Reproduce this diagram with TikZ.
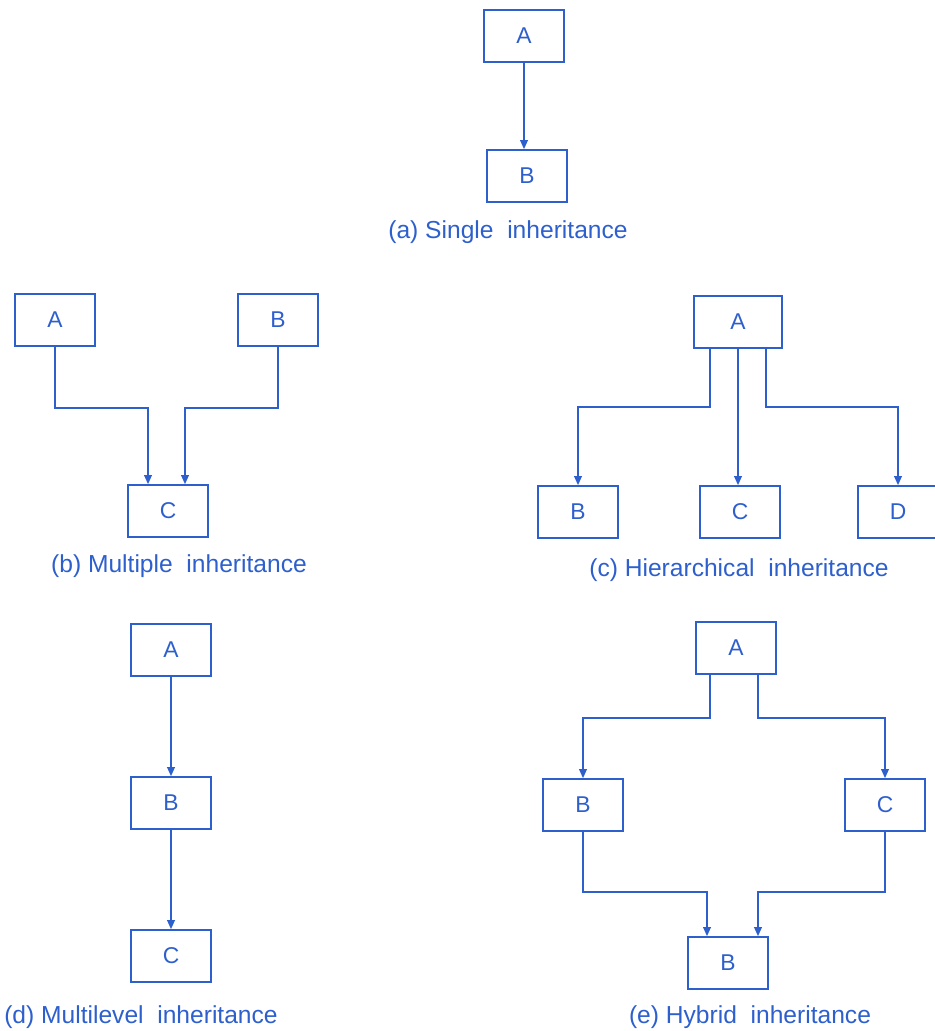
\documentclass[tikz,border=0pt]{standalone}
\usepackage{fontspec}
\setmainfont{Liberation Sans}
\usepackage{xcolor}
\usepackage{tikz}
\usetikzlibrary{arrows.meta}
\definecolor{inkblue}{RGB}{45,95,205}
\begin{document}
\begin{tikzpicture}[x=0.02cm, y=0.02cm,
    every node/.style={text=inkblue, font=\fontsize{13}{15}\selectfont},
    cls/.style={draw=inkblue, line width=0.9pt, minimum width=1.6cm, minimum height=1.04cm, inner sep=0pt},
    arr/.style={draw=inkblue, line width=1pt, -{Triangle[length=1.8mm, width=1.5mm]}},
    caption/.style={inner sep=0pt, font=\fontsize{14}{16}\selectfont}
    ]
    \useasboundingbox (0,0) rectangle (935,-1031);
    % (a) single
    \node[cls] (aA) at (524,-36) {A};
    \node[cls] (aB) at (527,-176) {B};
    \node[caption] (acap) at (508,-232) {(a) Single\ \ inheritance};
    \draw[arr] (aA.south) -- (aA.south |- aB.north);
    % (b) multiple
    \node[cls] (bA) at (55,-320) {A};
    \node[cls] (bB) at (278,-320) {B};
    \node[cls] (bC) at (168,-511) {C};
    \node[caption] (bcap) at (179,-566) {(b) Multiple\ \ inheritance};
    \draw[arr] (bA.south) -- ++(0,-61) -| ([xshift=-4mm]bC.north);
    \draw[arr] (bB.south) -- ++(0,-61) -| ([xshift=3.4mm]bC.north);
    % (c) hierarchical
    \node[cls, minimum width=1.76cm] (cA) at (738,-322) {A};
    \node[cls] (cB) at (578,-512) {B};
    \node[cls] (cC) at (740,-512) {C};
    \node[cls] (cD) at (898,-512) {D};
    \node[caption] (ccap) at (739,-570) {(c) Hierarchical\ \ inheritance};
    \draw[arr] ([xshift=-5.6mm]cA.south) -- ++(0,-58) -| (cB.north);
    \draw[arr] (cA.south) -- (cA.south |- cC.north);
    \draw[arr] ([xshift=5.6mm]cA.south) -- ++(0,-58) -| (cD.north);
    % (d) multilevel
    \node[cls] (dA) at (171,-650) {A};
    \node[cls] (dB) at (171,-803) {B};
    \node[cls] (dC) at (171,-956) {C};
    \node[caption] (dcap) at (141,-1017) {(d) Multilevel\ \ inheritance};
    \draw[arr] (dA) -- (dB);
    \draw[arr] (dB) -- (dC);
    % (e) hybrid
    \node[cls] (eA) at (736,-648) {A};
    \node[cls] (eB) at (583,-805) {B};
    \node[cls] (eC) at (885,-805) {C};
    \node[cls] (eD) at (728,-963) {B};
    \node[caption] (ecap) at (750,-1017) {(e) Hybrid\ \ inheritance};
    \draw[arr] ([xshift=-5.2mm]eA.south) -- ++(0,-43) -| (eB.north);
    \draw[arr] ([xshift=4.4mm]eA.south) -- ++(0,-43) -| (eC.north);
    \draw[arr] (eB.south) -- ++(0,-60) -| ([xshift=-4.2mm]eD.north);
    \draw[arr] (eC.south) -- ++(0,-60) -| ([xshift=6mm]eD.north);
\end{tikzpicture}
\end{document}
